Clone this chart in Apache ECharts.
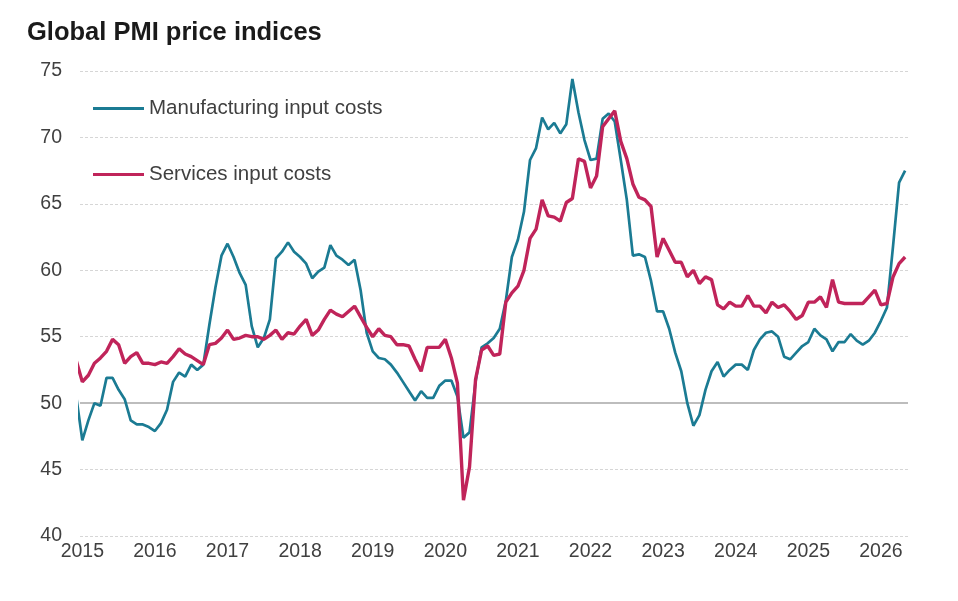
<!DOCTYPE html>
<html>
<head>
<meta charset="utf-8">
<script src="https://cdn.jsdelivr.net/npm/echarts@6/dist/echarts.min.js"></script>
<style>
  html, body { margin: 0; padding: 0; background: #fff; }
  #chart { width: 958px; height: 601px; }
</style>
</head>
<body>
<div id="chart"></div>
<script>
// monthly readings, Dec 2014 .. May 2026
const startYear = 2014;
const startMonth = 12;

const manufacturing = [
  50.5,
  47.2, 48.7, 50.0, 49.8, 51.9, 51.9, 51.0, 50.3, 48.7, 48.4, 48.4, 48.2,
  47.9, 48.5, 49.5, 51.6, 52.3, 52.0, 52.9, 52.5, 52.9, 55.9, 58.7, 61.1,
  62.0, 61.0, 59.8, 58.9, 55.8, 54.2, 54.9, 56.3, 60.9, 61.4, 62.1, 61.4,
  61.0, 60.5, 59.4, 59.9, 60.2, 61.9, 61.1, 60.8, 60.4, 60.8, 58.5, 55.3,
  53.9, 53.4, 53.3, 52.9, 52.3, 51.6, 50.9, 50.2, 50.9, 50.4, 50.4, 51.3,
  51.7, 51.7, 50.5, 47.4, 47.8, 51.6, 54.2, 54.5, 54.9, 55.6, 57.7, 61.0,
  62.3, 64.4, 68.3, 69.2, 71.5, 70.6, 71.1, 70.3, 71.0, 74.4, 71.9, 69.8,
  68.3, 68.4, 71.4, 71.8, 71.2, 68.3, 65.3, 61.1, 61.2, 61.0, 59.2, 56.9,
  56.9, 55.6, 53.8, 52.4, 50.0, 48.3, 49.1, 51.0, 52.4, 53.1, 52.0, 52.5,
  52.9, 52.9, 52.5, 54.0, 54.8, 55.3, 55.4, 55.0, 53.5, 53.3, 53.8, 54.3,
  54.6, 55.6, 55.1, 54.8, 53.9, 54.6, 54.6, 55.2, 54.7, 54.4, 54.7, 55.3,
  56.2, 57.2, 61.8, 66.6, 67.5
];

const services = [
  53.2,
  51.6, 52.1, 53.0, 53.4, 53.9, 54.8, 54.4, 53.0, 53.5, 53.8, 53.0, 53.0,
  52.9, 53.1, 53.0, 53.5, 54.1, 53.7, 53.5, 53.2, 52.9, 54.4, 54.5, 54.9,
  55.5, 54.8, 54.9, 55.1, 55.0, 55.0, 54.8, 55.1, 55.5, 54.8, 55.3, 55.2,
  55.8, 56.3, 55.1, 55.5, 56.3, 57.0, 56.7, 56.5, 56.9, 57.3, 56.5, 55.7,
  55.0, 55.6, 55.1, 55.0, 54.4, 54.4, 54.3, 53.3, 52.4, 54.2, 54.2, 54.2,
  54.8, 53.4, 51.5, 42.7, 45.2, 51.8, 54.0, 54.3, 53.6, 53.7, 57.6, 58.3,
  58.8, 60.0, 62.4, 63.1, 65.3, 64.1, 64.0, 63.7, 65.1, 65.4, 68.4, 68.2,
  66.2, 67.1, 70.8, 71.4, 72.0, 69.7, 68.4, 66.5, 65.5, 65.3, 64.8, 61.0,
  62.4, 61.5, 60.6, 60.6, 59.5, 60.0, 59.0, 59.5, 59.3, 57.4, 57.1, 57.6,
  57.3, 57.3, 58.1, 57.3, 57.3, 56.8, 57.6, 57.2, 57.4, 56.9, 56.3, 56.6,
  57.6, 57.6, 58.0, 57.2, 59.3, 57.6, 57.5, 57.5, 57.5, 57.5, 58.0, 58.5,
  57.4, 57.5, 59.5, 60.5, 61.0
];

const yearTicks = [2015, 2016, 2017, 2018, 2019, 2020, 2021, 2022, 2023, 2024, 2025, 2026];
const yTicks = [40, 45, 50, 55, 60, 65, 70, 75];

// month position as decimal year
function toPairs(values){
    return values.map(function(v, i){
        let m = startMonth - 1 + i;
        return [startYear + m / 12, v];
    });
}

let chart = echarts.init(document.getElementById('chart'));

let fontName = 'Liberation Sans, Arial, sans-serif';
let labelFont = { fontFamily: fontName, fontSize: 19.5, color: '#404040' };

let option = {
    backgroundColor: '#fff',
    animation: false,
    title: {
        text: 'Global PMI price indices',
        left: 27,
        top: 20,
        padding: 0,
        textStyle: { fontFamily: fontName, fontSize: 25.5, fontWeight: 'bold', color: '#1a1a1a' }
    },
    legend: {
        left: 93,
        top: 98,
        padding: 0,
        orient: 'vertical',
        icon: 'rect',
        itemWidth: 51,
        itemHeight: 3,
        itemGap: 45,
        textStyle: { fontFamily: fontName, fontSize: 20.5, color: '#404040', lineHeight: 21, padding: 0 },
        data: ['Manufacturing input costs', 'Services input costs']
    },
    grid: { left: 80, right: 50, top: 71, bottom: 65 },
    xAxis: {
        type: 'value',
        min: 2014.968,
        max: 2026.373,
        axisLine: { show: false },
        axisTick: { show: false },
        splitLine: { show: false },
        axisLabel: Object.assign({
            customValues: yearTicks,
            margin: 6,
            formatter: function(v){ return String(Math.round(v)); }
        }, labelFont)
    },
    yAxis: {
        type: 'value',
        min: yTicks[0],
        max: yTicks[yTicks.length - 1],
        interval: 5,
        axisLine: { show: false },
        axisTick: { show: false },
        axisLabel: Object.assign({ margin: 18 }, labelFont),
        splitLine: { show: true, lineStyle: { color: '#d6d6d6', type: [3, 2], width: 1 } }
    },
    series: [
        {
            name: 'Manufacturing input costs',
            type: 'line',
            data: toPairs(manufacturing),
            showSymbol: false,
            color: '#1b7b93',
            lineStyle: { width: 2.7, color: '#1b7b93' },
            clip: true,
            z: 3,
            markLine: {
                silent: true,
                symbol: 'none',
                label: { show: false },
                lineStyle: { color: '#bdbdbd', type: 'solid', width: 2 },
                data: [{ yAxis: 50 }],
                z: 1
            }
        },
        {
            name: 'Services input costs',
            type: 'line',
            data: toPairs(services),
            showSymbol: false,
            color: '#c0245a',
            lineStyle: { width: 3.4, color: '#c0245a' },
            clip: true,
            z: 4
        }
    ]
};

chart.setOption(option);
</script>
</body>
</html>
